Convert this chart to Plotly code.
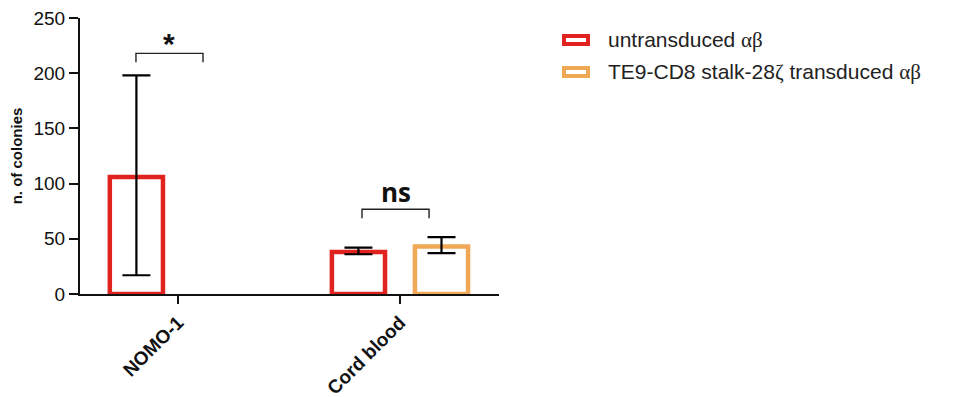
import plotly.graph_objects as go

# ---- data ----
categories = ["NOMO-1", "Cord blood"]
untransduced = [106, 38]
untransduced_err_plus = [92, 4]
untransduced_err_minus = [89, 2]
transduced = [None, 43]
transduced_err_plus = [0, 8.5]
transduced_err_minus = [0, 6]
series_names = ["untransduced αβ", "TE9-CD8 stalk-28ζ transduced αβ"]
y_ticks = [0, 50, 100, 150, 200, 250]

RED = "#E0231E"
ORANGE = "#F0A857"

# plot area in pixels (figure is 962 x 397)
W, H = 962, 397
L, R, T, B = 80, 499, 18, 294


def px(x):
    return (x - L) / (R - L)


def py(y):
    return (B - y) / (B - T)


fig = go.Figure()
fig.add_trace(go.Bar(
    x=categories, y=untransduced, name=series_names[0],
    marker=dict(color="rgba(0,0,0,0)", line=dict(color=RED, width=4.5)),
    error_y=dict(type="data", symmetric=False, array=untransduced_err_plus,
                 arrayminus=untransduced_err_minus, color="black",
                 thickness=2.2, width=14),
))
fig.add_trace(go.Bar(
    x=categories, y=transduced, name=series_names[1],
    marker=dict(color="rgba(0,0,0,0)", line=dict(color=ORANGE, width=4.5)),
    error_y=dict(type="data", symmetric=False, array=transduced_err_plus,
                 arrayminus=transduced_err_minus, color="black",
                 thickness=2.2, width=14),
))

shapes = []
annotations = []

# significance brackets: (left x, right x, top y, leg-end y, label, label y, font, size)
brackets = [
    (-0.189, 0.113, 218, 210, "*", 227, "Liberation Sans", 30),
    (1 - 0.171, 1 + 0.131, 76.7, 68.6, "ns", 92, "Open Sans", 26),
]
for x0, x1, ytop, yleg, label, ylab, fam, size in brackets:
    shapes.append(dict(type="path", xref="x", yref="y",
                       path=f"M {x0},{yleg} L {x0},{ytop} L {x1},{ytop} L {x1},{yleg}",
                       line=dict(color="#222222", width=1.4)))
    annotations.append(dict(x=(x0 + x1) / 2, y=ylab, xref="x", yref="y",
                            text=f"<b>{label}</b>", showarrow=False, yanchor="middle",
                            font=dict(size=size, color="#111111", family=fam)))

# legend drawn as outlined swatches with text
legend_rows = [(40, RED, series_names[0]), (72, ORANGE, series_names[1])]
greek = '<span style="font-family:Liberation Serif">{}</span>'
for yc, col, name in legend_rows:
    shapes.append(dict(type="rect", xref="paper", yref="paper",
                       x0=px(564), x1=px(588), y0=py(yc - 4), y1=py(yc + 4),
                       line=dict(color=col, width=4), fillcolor="white"))
    txt = name.replace("αβ", greek.format("αβ")).replace("ζ", greek.format("ζ"))
    annotations.append(dict(x=px(606), y=py(yc), xref="paper", yref="paper",
                            text=txt, showarrow=False, xanchor="left", yanchor="middle",
                            font=dict(size=21, color="#222222", family="Liberation Sans")))

fig.update_layout(
    width=W, height=H,
    margin=dict(l=L, r=W - R, t=T, b=H - B, autoexpand=False),
    paper_bgcolor="white", plot_bgcolor="white",
    barmode="group", bargap=0.252, bargroupgap=0.36,
    showlegend=False,
    shapes=shapes, annotations=annotations,
    font=dict(family="Liberation Sans", color="#111111"),
)
fig.update_xaxes(
    range=[-0.441, 1.446], showline=True, linecolor="#111111", linewidth=2,
    ticks="outside", ticklen=8, tickwidth=2, tickcolor="#111111",
    tickangle=-45, tickfont=dict(size=19, family="Liberation Sans", color="#111111"),
    tickprefix="<b>", ticksuffix="</b>", showgrid=False, zeroline=False,
    automargin=False,
)
fig.update_yaxes(
    range=[0, 250], tickvals=y_ticks, showline=True, linecolor="#111111", linewidth=2,
    ticks="outside", ticklen=9, tickwidth=2, tickcolor="#111111",
    tickfont=dict(size=19, family="Liberation Sans", color="#111111"),
    tickprefix="<b>", ticksuffix="</b>", showgrid=False, zeroline=False,
    automargin=False,
    title=dict(text="<b>n. of colonies</b>", standoff=7,
               font=dict(size=15, family="Liberation Sans", color="#111111")),
)

fig.write_html("out.html")
